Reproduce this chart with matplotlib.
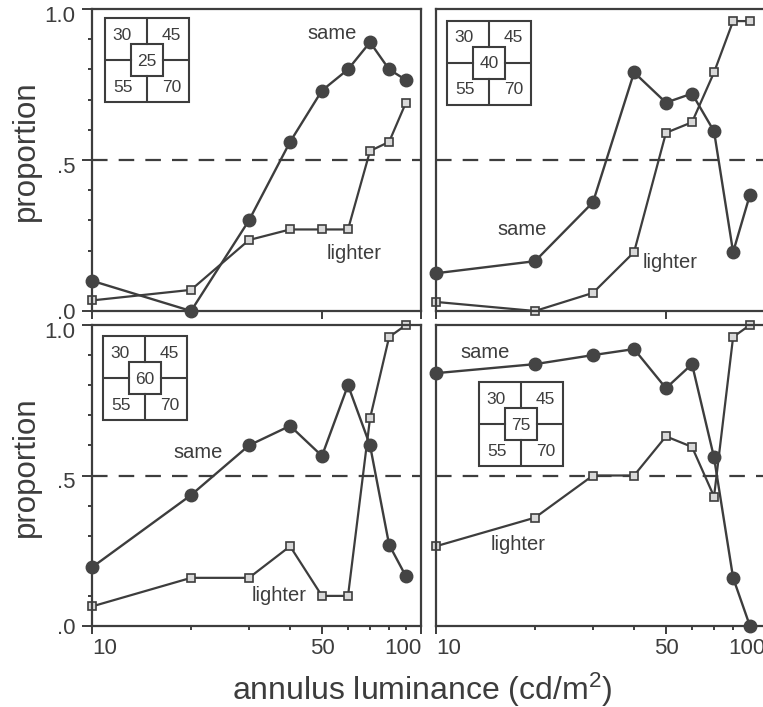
import matplotlib
matplotlib.use('Agg')
import matplotlib.pyplot as plt
from matplotlib.patches import Rectangle
from matplotlib.ticker import FixedLocator, NullFormatter
from matplotlib.transforms import ScaledTranslation

plt.rcParams['font.family'] = ['Liberation Sans', 'DejaVu Sans']
plt.rcParams['mathtext.default'] = 'regular'

# annulus luminance (cd/m2)
lum = [10, 20, 30, 40, 50, 60, 70, 80, 90]

# proportion of "same" / "lighter" responses, one list per centre luminance
same_25 = [0.10, 0.00, 0.30, 0.56, 0.73, 0.80, 0.89, 0.80, 0.765]
lighter_25 = [0.035, 0.07, 0.235, 0.27, 0.27, 0.27, 0.53, 0.56, 0.69]

same_40 = [0.125, 0.165, 0.36, 0.79, 0.69, 0.72, 0.595, 0.195, 0.385]
lighter_40 = [0.03, 0.0, 0.06, 0.195, 0.59, 0.625, 0.79, 0.96, 0.96]

same_60 = [0.195, 0.435, 0.60, 0.665, 0.565, 0.80, 0.60, 0.27, 0.165]
lighter_60 = [0.065, 0.16, 0.16, 0.265, 0.10, 0.10, 0.69, 0.96, 1.0]

same_75 = [0.84, 0.87, 0.90, 0.92, 0.79, 0.87, 0.56, 0.16, 0.0]
lighter_75 = [0.265, 0.36, 0.50, 0.50, 0.63, 0.595, 0.43, 0.96, 1.0]

centres = ['25', '40', '60', '75']
surround = ['30', '45', '55', '70']

# where the "same" / "lighter" words sit (luminance, proportion)
same_txt = [(53.5, 0.92), (18.3, 0.27), (21.0, 0.575), (14.1, 0.91)]
lighter_txt = [(62.5, 0.19), (51.5, 0.16), (37.0, 0.10), (17.8, 0.27)]

W, H = 763, 707
ink = '#3d3d3d'

fig = plt.figure(figsize=(W / 100, H / 100), dpi=100)

# axes boxes in pixels: left, top, width, height
boxes = [(92, 9, 329, 302), (436, 9, 329, 302),
         (92, 325, 329, 301), (436, 325, 329, 301)]
# inset diagram top-left corner in pixels
insets = [(105, 18), (447, 21), (103, 336), (479, 382)]

series = [(same_25, lighter_25), (same_40, lighter_40),
          (same_60, lighter_60), (same_75, lighter_75)]

for i, (l, t, w, h) in enumerate(boxes):
    ax = fig.add_axes([l / W, 1 - (t + h) / H, w / W, h / H])
    s, li = series[i]
    ax.axhline(0.5, color=ink, lw=1.6, ls=(0, (7, 5)), zorder=1)
    ax.plot(lum, li, color=ink, lw=1.6, marker='s', ms=5.5,
            mfc='#d9d9d9', mec=ink, mew=1.2, zorder=2, clip_on=False)
    ax.plot(lum, s, color=ink, lw=1.7, marker='o', ms=9,
            mfc='#444444', mec='#444444', zorder=3, clip_on=False)
    ax.text(*same_txt[i], 'same', color=ink, fontsize=14.5,
            ha='center', va='center')
    ax.text(*lighter_txt[i], 'lighter', color=ink, fontsize=14.5,
            ha='center', va='center')

    ax.set_xscale('log')
    ax.set_xlim(10, 100)
    ax.set_ylim(0, 1)
    for sp in ax.spines.values():
        sp.set_color(ink)
        sp.set_linewidth(1.6)

    ax.xaxis.set_major_locator(FixedLocator([10, 50, 100]))
    ax.yaxis.set_major_locator(FixedLocator([0, 0.5, 1.0]))
    ax.tick_params(which='major', length=6, width=1.4, color=ink,
                   labelcolor=ink, labelsize=16, pad=3)
    ax.tick_params(which='minor', length=3, width=1.4, color=ink)

    bottom = i >= 2
    left = i % 2 == 0
    if bottom:
        ax.xaxis.set_minor_locator(FixedLocator([20, 30, 40, 60, 70, 80, 90]))
        ax.set_xticklabels(['10', '50', '100'])
        xl = ax.get_xticklabels()
        xl[0].set_ha('left')
        xl[2].set_ha('right')
    else:
        ax.xaxis.set_minor_locator(FixedLocator([]))
        ax.set_xticklabels([])
    ax.xaxis.set_minor_formatter(NullFormatter())

    if left:
        ax.yaxis.set_minor_locator(FixedLocator([0.1, 0.2, 0.3, 0.4, 0.6,
                                                 0.7, 0.8, 0.9]))
        ax.set_yticklabels(['.0', '.5', '1.0'])
        ax.tick_params(axis='y', which='major', length=7, pad=5)
        yl = ax.get_yticklabels()
        shift = ScaledTranslation(0, -5 / 100, fig.dpi_scale_trans)
        for lab in yl[1:]:
            lab.set_transform(lab.get_transform() + shift)
        ax.set_ylabel('proportion', fontsize=22.5, color=ink)
        ax.yaxis.set_label_coords(-0.155, 0.53)
    else:
        ax.tick_params(axis='y', which='both', left=False, labelleft=False)

    # little stimulus diagram
    il, it = insets[i]
    ia = fig.add_axes([il / W, 1 - (it + 84) / H, 84 / W, 84 / H])
    ia.set_xlim(0, 84)
    ia.set_ylim(84, 0)
    ia.axis('off')
    ia.add_patch(Rectangle((0, 0), 84, 84, fill=False, ec=ink, lw=1.5,
                           clip_on=False))
    ia.add_patch(Rectangle((26, 26), 32, 32, fill=False, ec=ink, lw=1.5,
                           clip_on=False))
    ia.plot([42, 42], [0, 26], color=ink, lw=1.5)
    ia.plot([42, 42], [58, 84], color=ink, lw=1.5)
    ia.plot([0, 26], [42, 42], color=ink, lw=1.5)
    ia.plot([58, 84], [42, 42], color=ink, lw=1.5)
    for (tx, ty), lab in zip([(17, 17), (66, 17), (18, 69), (67, 69)], surround):
        ia.text(tx, ty, lab, color=ink, fontsize=12.5, ha='center', va='center')
    ia.text(42, 43, centres[i], color=ink, fontsize=12.5, ha='center',
            va='center')

fig.text(422 / W, 1 - 690 / H, 'annulus luminance (cd/m$^2$)', fontsize=23,
         color=ink, ha='center', va='center')

fig.savefig('out.png', dpi=100, facecolor='white')
